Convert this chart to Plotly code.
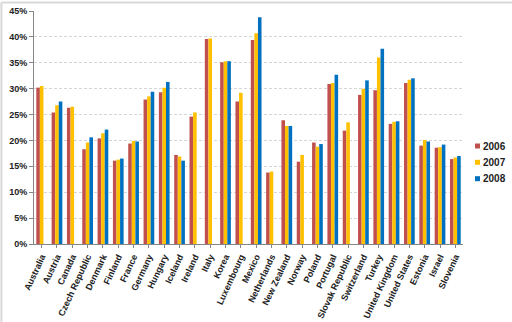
import plotly.graph_objects as go

countries = ["Australia", "Austria", "Canada", "Czech Republic", "Denmark", "Finland", "France",
             "Germany", "Hungary", "Iceland", "Ireland", "Italy", "Korea", "Luxembourg", "Mexico",
             "Netherlands", "New Zealand", "Norway", "Poland", "Portugal", "Slovak Republic",
             "Switzerland", "Turkey", "United Kingdom", "United States", "Estonia", "Israel", "Slovenia"]

v2006 = [30.2, 25.4, 26.3, 18.3, 20.4, 16.1, 19.4, 27.9, 29.3, 17.2, 24.6, 39.6, 35.1, 27.5, 39.4,
         13.8, 23.9, 15.9, 19.6, 30.9, 21.9, 28.8, 29.7, 23.2, 31.1, 19.0, 18.6, 16.4]
v2007 = [30.5, 26.8, 26.5, 19.6, 21.4, 16.3, 19.9, 28.5, 30.2, 16.9, 25.4, 39.7, 35.3, 29.2, 40.7,
         14.0, 22.8, 17.2, 18.8, 31.1, 23.5, 30.0, 36.0, 23.6, 31.7, 20.1, 18.7, 16.7]
v2008 = [None, 27.5, None, 20.6, 22.1, 16.5, 19.8, 29.4, 31.3, 16.1, None, None, 35.3, None, 43.8,
         None, 22.8, None, 19.3, 32.7, None, 31.6, 37.7, 23.7, 32.0, 19.8, 19.2, 17.0]

series = [("2006", v2006, "#C0504D"), ("2007", v2007, "#FFC000"), ("2008", v2008, "#0070C0")]
tickvals = [0, 5, 10, 15, 20, 25, 30, 35, 40, 45]
ticktext = [f"{t}%" for t in tickvals]

fig = go.Figure()
for name, vals, col in series:
    fig.add_trace(go.Bar(x=countries, y=vals, name=name, marker=dict(color=col, line=dict(width=0)),
                         showlegend=False))

tf = dict(size=9, family="Liberation Sans", color="#222", weight="bold")

# legend drawn as small squares + text labels to the right of the plot
shapes = [
    dict(type="line", xref="paper", yref="paper", x0=-0.076, x1=1.2, y0=1.036, y1=1.036,
         line=dict(color="#D9D9D9", width=2)),
    dict(type="line", xref="paper", yref="paper", x0=-0.076, x1=-0.076, y0=1.036, y1=-0.4,
         line=dict(color="#D9D9D9", width=2)),
]
annotations = []
leg_y = [0.4206, 0.3506, 0.2803]
for (name, _, col), ly in zip(series, leg_y):
    shapes.append(dict(type="rect", xref="paper", yref="paper", x0=1.028, x1=1.0396,
                       y0=ly - 0.0107, y1=ly + 0.0107, fillcolor=col, line=dict(width=0)))
    annotations.append(dict(text=name, xref="paper", yref="paper", x=1.043, y=ly,
                            xanchor="left", yanchor="middle", showarrow=False,
                            font=dict(size=10, color="#222", family="Liberation Sans", weight="bold")))

fig.update_layout(
    width=512, height=322,
    margin=dict(l=34, r=49, t=11, b=78, autoexpand=False),
    paper_bgcolor="white", plot_bgcolor="white",
    barmode="group", bargap=0.3, bargroupgap=0,
    font=dict(family="Liberation Sans", size=9, color="#222"),
    showlegend=False,
    xaxis=dict(tickangle=-65, showgrid=False, showline=True, linecolor="#868686",
               ticks="outside", ticklen=3, tickcolor="#868686", automargin=False,
               tickfont=tf, range=[-0.5, len(countries) - 0.5]),
    yaxis=dict(range=[0, 45], tickvals=tickvals, ticktext=ticktext, automargin=False,
               showgrid=True, gridcolor="#D6D6D6", griddash="3px,2px", gridwidth=1,
               showline=True, linecolor="#868686", ticks="outside", ticklen=4, tickcolor="#868686",
               tickfont=tf, zeroline=False),
    shapes=shapes,
    annotations=annotations,
)

fig.write_html("out.html")
